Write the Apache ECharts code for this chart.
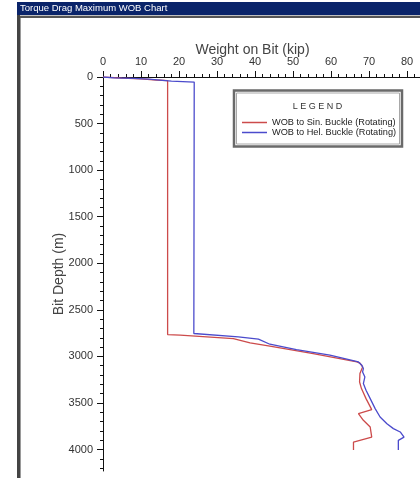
<!DOCTYPE html>
<html>
<head>
<meta charset="utf-8">
<script src="https://cdn.jsdelivr.net/npm/echarts@6/dist/echarts.min.js"></script>
<style>
  html, body { margin: 0; padding: 0; background: #ffffff; }
  #chart { width: 420px; height: 478px; }
</style>
</head>
<body>
<div id="chart"></div>
<script>
// Weight-on-bit limits versus bit depth
const sinWob   = [0, 5, 10, 14, 17, 17, 20.3, 34.3, 38.7, 43.9, 55.3, 66.8, 67.6, 68.3, 67.6, 67.5, 68.0, 69.2, 70.7, 67.2, 68.5, 70.3, 70.7, 65.9, 65.9];
const sinDepth = [0, 12, 20, 32, 40, 2765, 2772, 2808, 2855, 2890, 2969, 3059, 3072, 3113, 3184, 3274, 3345, 3453, 3571, 3614, 3686, 3758, 3866, 3919, 4005];

const helWob   = [0, 3, 8, 12, 18, 24, 23.9, 35.6, 40.9, 43.9, 50.9, 59.7, 67.2, 68.1, 68.5, 68.3, 68.9, 68.5, 69.2, 70.3, 71.6, 72.9, 74.7, 76.4, 78.2, 79.2, 77.7, 77.7];
const helDepth = [0, 10, 15, 22, 45, 55, 2754, 2790, 2815, 2869, 2926, 2987, 3059, 3095, 3130, 3166, 3220, 3291, 3363, 3453, 3560, 3650, 3722, 3775, 3811, 3866, 3901, 4005];

const wobTicks = [0, 10, 20, 30, 40, 50, 60, 70, 80];
const wobMinorTicks = [0, 2, 4, 6, 8, 10, 12, 14, 16, 18, 20, 22, 24, 26, 28, 30, 32, 34, 36, 38, 40, 42, 44, 46, 48, 50, 52, 54, 56, 58, 60, 62, 64, 66, 68, 70, 72, 74, 76, 78, 80, 82];
const depthTicks = [0, 500, 1000, 1500, 2000, 2500, 3000, 3500, 4000];
const depthMinorTicks = [0, 100, 200, 300, 400, 500, 600, 700, 800, 900, 1000, 1100, 1200, 1300, 1400, 1500, 1600, 1700, 1800, 1900, 2000, 2100, 2200, 2300, 2400, 2500, 2600, 2700, 2800, 2900, 3000, 3100, 3200, 3300, 3400, 3500, 3600, 3700, 3800, 3900, 4000, 4100, 4200];

const seriesNames = ['WOB to Sin. Buckle (Rotating)', 'WOB to Hel. Buckle (Rotating)'];
const windowTitle = 'Torque Drag Maximum WOB Chart';

const pairs = (xs, ys) => xs.map((x, i) => [x, ys[i]]);
const plain = v => String(v);

const FONT = '"Liberation Sans", Arial, sans-serif';
const LABEL_COLOR = '#333';

const chart = echarts.init(document.getElementById('chart'), null, { renderer: 'canvas' });

const xBase = {
  type: 'value', position: 'top', min: 0, max: 83.4,
  splitLine: { show: false }
};
const yBase = {
  type: 'value', position: 'left', inverse: true, min: 0, max: 4230,
  splitLine: { show: false }
};

chart.setOption({
  animation: false,
  backgroundColor: '#ffffff',
  grid: { left: 103, top: 77, right: 0, bottom: 7, containLabel: false },
  xAxis: [
    Object.assign({}, xBase, {
      name: 'Weight on Bit (kip)',
      nameLocation: 'middle',
      nameGap: 20,
      nameMoveOverlap: false,
      nameTextStyle: { fontFamily: FONT, fontSize: 14, color: '#444', padding: [0, 18, 0, 0] },
      axisLine: { show: true, lineStyle: { color: '#111', width: 1 } },
      axisTick: { show: true, length: 6, lineStyle: { color: '#111' }, customValues: wobTicks },
      axisLabel: { show: true, margin: 10, fontFamily: FONT, fontSize: 11, color: LABEL_COLOR, customValues: wobTicks, formatter: plain }
    }),
    Object.assign({}, xBase, {
      axisLine: { show: false },
      axisTick: { show: true, length: 3, lineStyle: { color: '#111' }, customValues: wobMinorTicks },
      axisLabel: { show: false }
    })
  ],
  yAxis: [
    Object.assign({}, yBase, {
      name: 'Bit Depth (m)',
      nameLocation: 'middle',
      nameGap: 37,
      nameMoveOverlap: false,
      nameTextStyle: { fontFamily: FONT, fontSize: 14, color: '#444' },
      axisLine: { show: true, lineStyle: { color: '#111', width: 1 } },
      axisTick: { show: true, length: 6, lineStyle: { color: '#111' }, customValues: depthTicks },
      axisLabel: { show: true, margin: 10, fontFamily: FONT, fontSize: 11, color: LABEL_COLOR, customValues: depthTicks, formatter: plain }
    }),
    Object.assign({}, yBase, {
      axisLine: { show: false },
      axisTick: { show: true, length: 3, lineStyle: { color: '#111' }, customValues: depthMinorTicks },
      axisLabel: { show: false }
    })
  ],
  legend: {
    orient: 'vertical',
    left: 242, top: 118,
    padding: 0,
    z: 20,
    itemWidth: 25, itemHeight: 1.5, itemGap: 1,
    icon: 'rect',
    textStyle: { fontFamily: FONT, fontSize: 9.2, color: '#222' },
    data: seriesNames
  },
  series: [
    {
      name: seriesNames[0], type: 'line', xAxisIndex: 0, yAxisIndex: 0,
      symbol: 'none', data: pairs(sinWob, sinDepth),
      lineStyle: { color: '#cc4b4b', width: 1.3 }, itemStyle: { color: '#cc4b4b' }
    },
    {
      name: seriesNames[1], type: 'line', xAxisIndex: 0, yAxisIndex: 0,
      symbol: 'none', data: pairs(helWob, helDepth),
      lineStyle: { color: '#4b4bcc', width: 1.3 }, itemStyle: { color: '#4b4bcc' }
    }
  ],
  graphic: [
    // window caption bar
    { type: 'rect', shape: { x: 17, y: 2, width: 403, height: 13 }, style: { fill: '#0a246a' }, z: 100 },
    { type: 'text', x: 20, y: 8.5, style: { text: windowTitle, fill: '#ffffff', font: '9.5px ' + FONT, textVerticalAlign: 'middle' }, z: 101 },
    // window frame
    { type: 'rect', shape: { x: 17, y: 15, width: 403, height: 1 }, style: { fill: '#c0c0c0' }, z: 100 },
    { type: 'rect', shape: { x: 17, y: 16, width: 403, height: 2 }, style: { fill: '#555555' }, z: 100 },
    { type: 'rect', shape: { x: 17, y: 15, width: 3, height: 463 }, style: { fill: '#444444' }, z: 100 },
    { type: 'rect', shape: { x: 20, y: 18, width: 1, height: 460 }, style: { fill: '#9a9a9a' }, z: 100 },
    // legend box
    { type: 'rect', shape: { x: 234, y: 90.5, width: 168, height: 56 }, style: { fill: '#ffffff', stroke: '#6a6a6a', lineWidth: 2.5 }, z: 5 },
    { type: 'rect', shape: { x: 236.5, y: 93, width: 163, height: 51 }, style: { fill: 'none', stroke: '#a8a8a8', lineWidth: 1 }, z: 5 },
    { type: 'text', x: 317.5, y: 107, style: { text: 'L E G E N D', fill: '#333', font: '9px ' + FONT, textAlign: 'center', textVerticalAlign: 'middle' }, z: 6 }
  ]
});
</script>
</body>
</html>
